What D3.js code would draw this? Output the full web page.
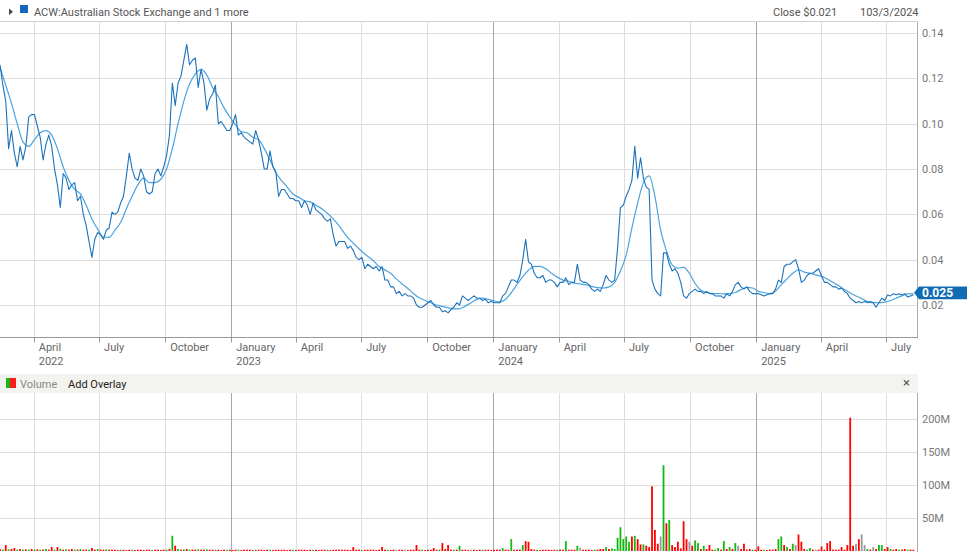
<!DOCTYPE html>
<html><head><meta charset="utf-8">
<script src="https://cdn.jsdelivr.net/npm/d3@7"></script>
<style>
body{margin:0;background:#fff;}
svg{display:block;font-family:Roboto,"Liberation Sans",Arial,sans-serif;}
</style>
</head><body>
<svg id="c" width="980" height="552"></svg>
<script>
// ---------------- DATA ----------------
const headerTitle = "ACW:Australian Stock Exchange and 1 more";
const closeText = "Close $0.021";
const dateText = "103/3/2024";
const lastPriceLabel = "0.025";
const lastPrice = 0.0247;

const startDate = "2022-02-13";
const endDate = "2025-08-13";
const priceStepDays = 4;
const closePrices = [
0.126,0.117,0.110,0.089,0.097,0.087,0.081,0.090,0.084,0.090,
0.103,0.104,0.104,0.099,0.094,0.084,0.091,0.095,0.090,0.080,
0.073,0.063,0.078,0.076,0.071,0.073,0.074,0.066,0.068,0.060,
0.055,0.048,0.041,0.049,0.052,0.051,0.049,0.053,0.054,0.061,
0.060,0.061,0.065,0.068,0.077,0.087,0.080,0.076,0.075,0.080,
0.077,0.070,0.069,0.070,0.078,0.080,0.077,0.081,0.086,0.095,
0.118,0.108,0.118,0.121,0.128,0.135,0.126,0.128,0.129,0.116,
0.124,0.118,0.106,0.111,0.113,0.117,0.100,0.101,0.099,0.097,
0.097,0.100,0.104,0.095,0.096,0.094,0.093,0.092,0.091,0.097,
0.093,0.087,0.080,0.080,0.088,0.081,0.079,0.068,0.071,0.071,
0.069,0.067,0.067,0.066,0.066,0.063,0.066,0.064,0.060,0.065,
0.062,0.061,0.060,0.058,0.057,0.058,0.051,0.046,0.048,0.048,
0.048,0.045,0.046,0.044,0.041,0.040,0.041,0.036,0.038,0.037,
0.036,0.037,0.035,0.037,0.031,0.031,0.028,0.028,0.025,0.026,
0.024,0.025,0.024,0.024,0.023,0.020,0.019,0.019,0.020,0.021,
0.022,0.020,0.019,0.019,0.017,0.0175,0.0165,0.018,0.019,0.021,
0.020,0.024,0.023,0.022,0.023,0.024,0.023,0.023,0.022,0.0225,
0.021,0.0215,0.021,0.021,0.021,0.024,0.025,0.028,0.031,0.031,
0.030,0.033,0.040,0.049,0.039,0.038,0.034,0.032,0.032,0.033,
0.030,0.031,0.031,0.030,0.028,0.030,0.030,0.032,0.029,0.030,
0.030,0.038,0.031,0.030,0.030,0.029,0.027,0.026,0.027,0.026,
0.029,0.033,0.031,0.030,0.031,0.045,0.063,0.064,0.068,0.071,
0.075,0.090,0.076,0.085,0.076,0.072,0.071,0.031,0.027,0.025,
0.024,0.043,0.043,0.038,0.035,0.036,0.034,0.030,0.024,0.023,
0.025,0.026,0.027,0.026,0.026,0.025,0.026,0.025,0.025,0.024,
0.024,0.024,0.023,0.025,0.024,0.026,0.029,0.030,0.028,0.027,
0.028,0.026,0.025,0.025,0.025,0.0245,0.024,0.0245,0.025,0.025,
0.027,0.031,0.030,0.037,0.038,0.038,0.039,0.040,0.036,0.030,
0.031,0.033,0.034,0.034,0.035,0.036,0.033,0.030,0.030,0.029,
0.028,0.028,0.027,0.0275,0.026,0.025,0.023,0.022,0.021,0.0215,
0.021,0.0215,0.021,0.0215,0.021,0.019,0.021,0.023,0.022,0.0244,
0.024,0.025,0.0245,0.025,0.0244,0.025,0.0235,0.024,0.0245
];

const maStepDays = 8;
const movingAvg = [
0.125,0.117,0.109,0.100,0.092,0.090,0.093,0.096,0.097,0.095,
0.089,0.081,0.075,0.071,0.069,0.064,0.058,0.0535,0.050,0.0498,
0.053,0.0565,0.0625,0.068,0.073,0.076,0.074,0.074,0.0755,0.080,
0.089,0.100,0.110,0.1175,0.122,0.124,0.1215,0.116,0.112,0.107,
0.103,0.0995,0.0965,0.096,0.094,0.093,0.089,0.084,0.0785,0.075,
0.072,0.069,0.0675,0.066,0.0655,0.064,0.0625,0.0605,0.058,0.055,
0.0515,0.0485,0.046,0.0436,0.0415,0.0395,0.037,0.0355,0.034,0.0315,
0.0293,0.0273,0.025,0.0232,0.022,0.021,0.020,0.0194,0.0188,0.0183,
0.0183,0.0195,0.021,0.0225,0.023,0.0225,0.0218,0.0213,0.0225,0.0255,
0.029,0.0325,0.0353,0.037,0.037,0.036,0.034,0.0323,0.031,0.0304,
0.0296,0.0293,0.0289,0.0282,0.0277,0.0275,0.028,0.030,0.035,0.042,
0.054,0.065,0.074,0.077,0.068,0.053,0.044,0.0377,0.0363,0.0366,
0.034,0.0295,0.0265,0.0255,0.025,0.025,0.0249,0.025,0.0255,0.0268,
0.0278,0.0275,0.026,0.0255,0.025,0.026,0.029,0.0315,0.034,0.0355,
0.0345,0.034,0.0333,0.0326,0.0315,0.030,0.0285,0.0268,0.0253,0.024,
0.0228,0.0215,0.021,0.021,0.0213,0.022,0.023,0.024,0.0249,0.025
];

// volume in millions, same 4-day sampling as closePrices
const volumeM = [
3,2,9,2.5,3,4.5,2,3,2,2.5,
2,3,2,2.5,2,2,3,2,6,2,
6,3,2,2.5,2,3,2,2,3,2,
2,2,4.5,2,3,2,2,2.5,2,2,
2,1.5,2,2,1.5,2,2,1.5,2,2,
1.5,2,2,1.5,2,2,1.5,2,2,3,
23,8,3,2,2.5,3,2,2,2,2.5,
2,2,2.5,2,2,2,2,1.5,2,2,
2,1.5,2,2,1.5,2,2,2,1.5,2,
2,2,1.5,2,2,1.5,2,2,2,2,
1.5,2,2,1.5,2,2,2,1.5,2,2,
2,1.5,2,2,2,1.5,2,2,2,2,
2,2,1.5,6,2,2,1.5,2,2,2,
2,1.5,2,6,2,2,1.5,2,2,2,
2,2,1.5,2,2,9,2,2,1.5,2,
2,4.5,2,2,12,3,9,2,2,2,
8,2,2,1.5,2,2,1.5,2,2,2,
2,1.5,2,2,2,4.5,2,2,18,2,
2,2,9,15,14,3,2,2,1.5,2,
2,2,1.5,2,2,2,2,15,2,2,
2,8,5,2,2,2,1.5,2,2,3,
3,6,3,4,3,20,36,18,22,14,
22,23,18,10,10,8,6,98,32,11,
22,130,42,47,9,6,14,4,45,18,
14,8,16,12,3,8,3,9,2,2,
4.5,2,15,3,6,3,12,8,3,11,
2,3,2,2,7,2,2,1.5,2,2,
3,18,22,9,6,3,11,9,25,14,
3,2,4.5,2,2,2,7,2,12,15,
2,2,2,6,2,9,202,8,11,18,
25,9,3,2,6,3,9,9,3,6,
3,2,3,2,2,3,2,2,2
];
// u = up (green), d = down (red), n = unchanged (grey)
const volumeDir = (
"d u d u d d u d u d " +
"u d u d u d u d d u " +
"d u d u d d u d u d " +
"d u d d u d d u d d " +
"d d u d d d u d d d " +
"d d d u d d d d u d " +
"u d u d u d u d d u " +
"d d u d d u d d d u " +
"d d d u d d d d d u " +
"d d d d u d d d d d " +
"d d u d d d d d d u " +
"d d d d u d d d d d " +
"d d d d d d u d d d " +
"d d d d d u d d n d " +
"d n d d d d d u d d " +
"d d d u d d d d u d " +
"u d d d n d d d u d " +
"d d d d d u d d u d " +
"d d u d d d d u d d " +
"d d d d u d d u d d " +
"d u n d d d d u d d " +
"d u d u u u u u u u " +
"d u d d u d d d d d " +
"n u d u d d d d d d " +
"n d u u d u d d d u " +
"u d u d u d u n d d " +
"d d u d d d u d d d " +
"d u u d u d u n d d " +
"d u u d n d d d d d " +
"d d d d d d d d n d " +
"n n u d n d u u d d " +
"u d d u d d u d d").trim().split(" ");

const priceTicks = [0.02,0.04,0.06,0.08,0.10,0.12,0.14];
const volumeTicks = [50,100,150,200];
const monthTicks = ["2022-04-01","2022-07-01","2022-10-01","2023-01-01","2023-04-01","2023-07-01","2023-10-01",
  "2024-01-01","2024-04-01","2024-07-01","2024-10-01","2025-01-01","2025-04-01","2025-07-01"];
const monthLabels = ["April","July","October","January","April","July","October",
  "January","April","July","October","January","April","July"];
const yearLabels = ["2022","","","2023","","","","2024","","","","2025","",""];

// ---------------- LAYOUT ----------------
const svg = d3.select("#c");
const plotR = 917;
const pTop = 22, pBot = 337.5;
const vTop = 393, vBot = 551;

const parse = d3.timeParse("%Y-%m-%d");
const t0 = parse(startDate);
const x = d3.scaleTime().domain([t0, parse(endDate)]).range([0, plotR]);
const yP = d3.scaleLinear().domain([0.00543, 0.1449]).range([338, 22]);
const yV = d3.scaleLinear().domain([0, 239.4]).range([vBot, vTop]);

const priceData = closePrices.map((v,i)=>({date:d3.timeDay.offset(t0, i*priceStepDays), v}));
const maData = movingAvg.map((v,i)=>({date:d3.timeDay.offset(t0, i*maStepDays), v}));
const volData = volumeM.map((v,i)=>({date:d3.timeDay.offset(t0, i*priceStepDays), v, dir:volumeDir[i]}));
const months = monthTicks.map(parse);

const grid = svg.append("g");
grid.selectAll("line.ph").data(priceTicks).join("line")
  .attr("x1",0).attr("x2",plotR)
  .attr("y1",d=>Math.round(yP(d))+0.5).attr("y2",d=>Math.round(yP(d))+0.5)
  .attr("stroke","#dedede");
grid.selectAll("line.vh").data(volumeTicks).join("line")
  .attr("x1",0).attr("x2",plotR)
  .attr("y1",d=>Math.round(yV(d))+0.5).attr("y2",d=>Math.round(yV(d))+0.5)
  .attr("stroke","#dedede");
[[pTop,pBot],[vTop,552]].forEach(([a,b])=>{
  grid.append("g").selectAll("line").data(months).join("line")
    .attr("x1",d=>Math.round(x(d))+0.5).attr("x2",d=>Math.round(x(d))+0.5)
    .attr("y1",a).attr("y2",b)
    .attr("stroke",d=>d.getMonth()===0?"#a8a8a8":"#dedede");
});

svg.append("line").attr("x1",0).attr("x2",plotR).attr("y1",21.5).attr("y2",21.5).attr("stroke","#cfcfcf");
svg.append("line").attr("x1",plotR+0.5).attr("x2",plotR+0.5).attr("y1",21.5).attr("y2",pBot).attr("stroke","#aaa");
svg.append("line").attr("x1",plotR+0.5).attr("x2",plotR+0.5).attr("y1",vTop).attr("y2",552).attr("stroke","#aaa");
svg.append("line").attr("x1",0).attr("x2",plotR+1).attr("y1",pBot).attr("y2",pBot).attr("stroke","#999");
svg.append("g").selectAll("line").data(months).join("line")
  .attr("x1",d=>Math.round(x(d))+0.5).attr("x2",d=>Math.round(x(d))+0.5)
  .attr("y1",pBot).attr("y2",pBot+5).attr("stroke","#999");
const xl = svg.append("g").attr("font-size",11).attr("fill","#666");
xl.selectAll("text.m").data(months).join("text")
  .attr("x",d=>x(d)+5).attr("y",351).text((d,i)=>monthLabels[i]);
xl.selectAll("text.y").data(months).join("text")
  .attr("x",d=>x(d)+5).attr("y",365).text((d,i)=>yearLabels[i]);

svg.append("g").attr("font-size",11).attr("fill","#777")
  .selectAll("text").data(priceTicks).join("text")
  .attr("x",922).attr("y",d=>yP(d)+4).text(d=>d3.format(".2f")(d));
svg.append("g").attr("font-size",11).attr("fill","#777")
  .selectAll("text").data(volumeTicks).join("text")
  .attr("x",922).attr("y",d=>yV(d)+4).text(d=>d+"M");

svg.append("clipPath").attr("id","pclip").append("rect").attr("x",0).attr("y",pTop).attr("width",plotR).attr("height",pBot-pTop);

svg.append("path").datum(maData).attr("clip-path","url(#pclip)")
  .attr("d",d3.line().x(d=>x(d.date)).y(d=>yP(d.v)).curve(d3.curveMonotoneX)).attr("fill","none")
  .attr("stroke","#4ba3de").attr("stroke-width",1.2);
svg.append("path").datum(priceData).attr("clip-path","url(#pclip)")
  .attr("d",d3.line().x(d=>x(d.date)).y(d=>yP(d.v))).attr("fill","none")
  .attr("stroke","#1c72bb").attr("stroke-width",1.1).attr("stroke-linejoin","round");

const vcol = {u:"#14b814", d:"#ff0000", n:"#999999"};
svg.append("g").selectAll("rect").data(volData).join("rect")
  .attr("x",d=>x(d.date)-0.9).attr("width",1.8)
  .attr("y",d=>yV(d.v)).attr("height",d=>Math.max(0.5,yV(0)-yV(d.v)))
  .attr("fill",d=>vcol[d.dir]);

// last price tag (sits just above the 0.02 tick label)
const ly = yP(lastPrice) - 1.5;
svg.append("path")
  .attr("d",`M914,${ly} L919,${ly-6.3} L967,${ly-6.3} L967,${ly+6.3} L919,${ly+6.3} Z`)
  .attr("fill","#0f6cb4");
svg.append("text").attr("x",922).attr("y",ly+4.3).attr("fill","#fff")
  .attr("font-size",12).attr("font-weight","bold").text(lastPriceLabel);

svg.append("path").attr("d","M9,8.5 L9,15 L13,11.75 Z").attr("fill","#444");
svg.append("rect").attr("x",20).attr("y",5).attr("width",8).attr("height",8).attr("fill","#1466b8");
svg.append("text").attr("x",34).attr("y",15.5).attr("font-size",11).attr("fill","#555").text(headerTitle);
svg.append("text").attr("x",773).attr("y",15.5).attr("font-size",11).attr("fill","#555").text(closeText);
svg.append("text").attr("x",860).attr("y",15.5).attr("font-size",11).attr("fill","#555").text(dateText);

svg.append("rect").attr("x",0).attr("y",374).attr("width",plotR+1).attr("height",19).attr("fill","#f3f3ef");
svg.append("rect").attr("x",6).attr("y",378).attr("width",4).attr("height",10).attr("fill","#19b519");
svg.append("rect").attr("x",10).attr("y",378).attr("width",6).attr("height",10).attr("fill","#ff1a1a");
svg.append("text").attr("x",20).attr("y",388).attr("font-size",11).attr("fill","#888").text("Volume");
svg.append("text").attr("x",68).attr("y",388).attr("font-size",11).attr("fill","#222").text("Add Overlay");
svg.append("text").attr("x",903).attr("y",387).attr("font-size",13).attr("fill","#555").text("×");
</script>
</body></html>
